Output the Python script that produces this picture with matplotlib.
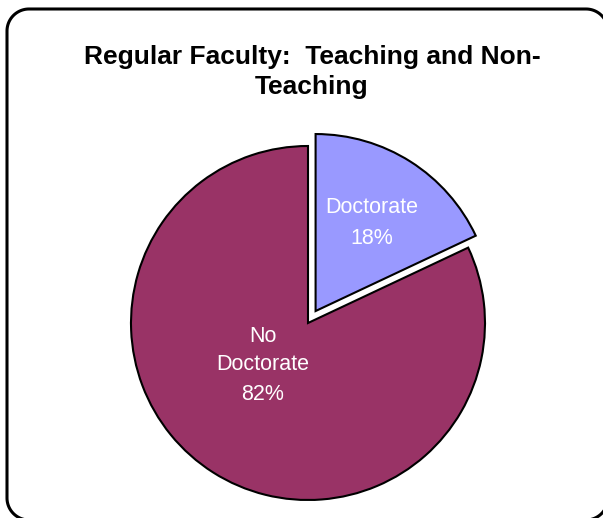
import matplotlib
matplotlib.use("Agg")
import matplotlib.pyplot as plt
import numpy as np

categories = ["Doctorate", "No\nDoctorate"]
values = [18, 82]
colors = ["#9999FF", "#993366"]
explode_frac = [0.08, 0.0]
title = "Regular Faculty:  Teaching and Non-\nTeaching"

W, H = 603, 518
fig = plt.figure(figsize=(W / 100, H / 100), dpi=100)

# border axes (plain, pixel units) - rounded rectangle as polyline
bax = fig.add_axes([0, 0, 1, 1])
bax.set_xlim(0, W)
bax.set_ylim(0, H)
bax.axis("off")
x0, x1, y0, y1, rr = 7, 608, H - 520, H - 9, 22
pts = []
for (ccx, ccy, a0) in [(x1 - rr, y1 - rr, 0), (x0 + rr, y1 - rr, 90),
                       (x0 + rr, y0 + rr, 180), (x1 - rr, y0 + rr, 270)]:
    t = np.radians(np.linspace(a0, a0 + 90, 30))
    pts.append(np.column_stack([ccx + rr * np.cos(t), ccy + rr * np.sin(t)]))
pts = np.vstack(pts + [pts[0][:1]])
bax.plot(pts[:, 0], pts[:, 1], color="black", linewidth=2.2,
         solid_joinstyle="round", clip_on=True)

ax = fig.add_axes([0, 0, 1, 1])
cx, cy, r = 308, H - 323, 177
wedges, _ = ax.pie(values, colors=colors, startangle=90, counterclock=False,
                   explode=[e * r for e in explode_frac], center=(cx, cy), radius=r,
                   wedgeprops=dict(edgecolor="black", linewidth=1.5))
ax.set_aspect("auto")
ax.set_xlim(0, W)
ax.set_ylim(0, H)
ax.axis("off")

fam = ["Liberation Sans", "DejaVu Sans"]
pct = [f"{v}%" for v in values]
label_offsets = [(64, 100), (-45, -42)]
spacings = [1.6, 1.5]
for (dx, dy), cat, p, ls in zip(label_offsets, categories, pct, spacings):
    ax.text(cx + dx, cy + dy, f"{cat}\n{p}", ha="center", va="center",
            color="white", fontsize=15.5, family=fam, linespacing=ls)

ax.text(312, H - 72, title, ha="center", va="center", fontsize=19,
        fontweight="bold", family=fam, linespacing=1.36)

fig.savefig("out.png", dpi=100)
